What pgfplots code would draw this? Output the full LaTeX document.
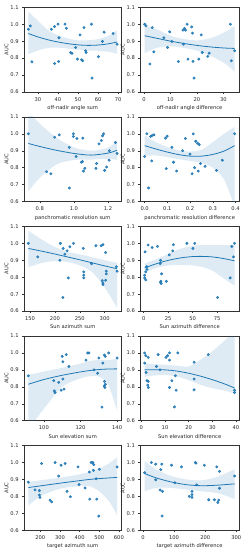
\documentclass[border=0pt]{standalone}
\usepackage{fontspec}
\setmainfont{DejaVu Sans}
\usepackage{pgfplots}
\usepackage{pgfplotstable}
\pgfplotsset{compat=1.18}
\usepgfplotslibrary{fillbetween}
\definecolor{c0}{HTML}{1F77B4}

% ---------- data ----------
\pgfplotstableread{
x y
25.2 0.970
26.2 0.990
27.0 0.778
36.7 0.970
38.3 0.986
38.3 0.768
40.0 1.000
40.3 0.780
40.5 0.920
43.5 1.000
44.2 0.976
46.3 0.833
47.0 0.828
48.8 0.863
49.7 0.794
51.0 0.937
51.8 0.790
52.3 0.784
53.0 0.980
53.8 0.843
54.0 0.833
56.7 1.000
57.0 0.682
60.2 0.808
62.2 0.898
63.0 0.953
67.5 0.945
69.5 0.882
}\sA
\pgfplotstableread{
x m lo hi
25.2 0.945 0.822 1.075
30 0.925 0.845 1.020
35 0.908 0.860 0.965
40 0.895 0.862 0.935
45 0.885 0.856 0.915
50 0.878 0.850 0.905
55 0.875 0.845 0.905
60 0.877 0.843 0.912
65 0.884 0.838 0.930
69.5 0.895 0.825 0.963
}\fA

\pgfplotstableread{
x y
0.26 1.000
0.77 0.990
2.2 0.765
3.1 0.980
3.7 0.837
7.5 0.920
8.9 0.863
9.7 0.955
10.5 0.898
13.0 0.780
14.7 0.965
14.9 0.882
15.3 0.975
15.7 0.965
16.3 1.000
16.6 0.794
18.0 0.984
18.3 0.947
18.5 0.780
18.9 0.682
20.7 0.794
21.6 0.937
22.0 0.833
24.1 0.810
24.6 0.829
32.6 1.000
33.0 0.784
34.2 0.843
}\sB
\pgfplotstableread{
x m lo hi
0.25 0.932 0.830 0.990
4.8 0.917 0.860 0.970
10.0 0.900 0.870 0.932
15.2 0.886 0.860 0.912
20.4 0.874 0.842 0.905
25.6 0.865 0.810 0.920
30.8 0.859 0.765 0.955
34.2 0.857 0.720 0.990
}\fB

\pgfplotstableread{
x y
0.733 1.000
0.840 0.776
0.865 0.764
0.887 0.980
0.914 0.994
0.973 0.920
0.973 0.680
0.997 1.000
0.997 0.984
1.013 0.866
1.017 0.972
1.044 0.832
1.050 0.836
1.052 0.974
1.056 0.780
1.064 0.796
1.129 0.796
1.133 0.824
1.147 0.940
1.161 0.960
1.168 0.988
1.174 1.000
1.180 0.784
1.192 0.804
1.206 0.844
1.208 0.900
1.243 0.948
1.253 0.884
}\sC
\pgfplotstableread{
x m lo hi
0.733 0.943 0.660 1.130
0.8 0.925 0.740 1.060
0.9 0.902 0.820 0.975
1.0 0.884 0.845 0.920
1.1 0.874 0.848 0.900
1.2 0.886 0.852 0.918
1.253 0.903 0.845 0.960
}\fC

\pgfplotstableread{
x y
0.000 0.866
0.010 1.000
0.017 0.680
0.026 0.984
0.031 0.840
0.033 0.990
0.041 0.994
0.092 0.974
0.095 0.794
0.099 0.986
0.120 0.920
0.127 0.832
0.141 0.780
0.167 0.900
0.179 0.972
0.200 0.880
0.209 0.764
0.214 1.000
0.220 0.800
0.225 0.956
0.233 0.944
0.236 0.780
0.240 0.936
0.246 0.824
0.266 0.808
0.316 0.784
0.342 0.844
0.396 1.000
}\sD
\pgfplotstableread{
x m lo hi
0.0 0.930 0.870 0.990
0.05 0.910 0.872 0.950
0.1 0.892 0.862 0.922
0.15 0.877 0.850 0.902
0.2 0.868 0.840 0.895
0.25 0.868 0.828 0.905
0.3 0.878 0.800 0.950
0.35 0.898 0.730 1.000
0.396 0.930 0.570 1.040
}\fD

\pgfplotstableread{
x y
146.6 1.000
165.5 0.920
210.0 0.900
211.0 1.000
216.6 0.970
216.0 0.680
220.0 0.936
224.6 0.956
227.0 0.796
230.0 0.980
237.4 1.000
257.0 0.970
258.0 0.832
258.0 0.812
258.0 0.796
273.7 0.880
282.5 0.986
293.0 0.986
296.6 0.992
295.0 0.780
296.6 0.766
296.6 0.756
302.0 0.946
302.0 0.782
303.3 0.836
303.3 0.820
323.5 0.862
325.0 0.836
}\sE
\pgfplotstableread{
x m lo hi
146.6 0.970 0.860 1.075
175 0.953 0.885 1.020
200 0.937 0.895 0.978
225 0.920 0.890 0.950
250 0.903 0.870 0.935
275 0.885 0.830 0.918
300 0.867 0.740 0.900
325 0.850 0.620 0.885
}\fE

\pgfplotstableread{
x y
1.4 0.950
3.1 0.862
3.4 0.846
2.1 0.832
1.0 0.812
1.0 0.796
2.1 0.784
4.5 0.990
8.6 0.976
14.1 0.982
16.9 0.880
17.2 0.900
17.6 0.776
18.3 0.820
17.2 0.770
17.9 0.762
23.1 0.776
26.2 0.932
29.7 0.956
30.3 0.992
44.1 1.000
50.3 0.970
52.1 1.000
75.5 0.680
88.3 0.796
90.0 0.982
91.7 0.920
92.8 1.000
}\sF
\pgfplotstableread{
x m lo hi
1.0 0.855 0.830 0.880
10 0.874 0.850 0.900
20 0.892 0.865 0.923
30 0.906 0.872 0.952
40 0.916 0.872 0.972
50 0.922 0.870 0.985
60 0.923 0.860 0.990
70 0.920 0.840 0.990
80 0.912 0.800 0.990
92.8 0.897 0.750 0.990
}\fF

\pgfplotstableread{
x y
91.5 0.865
105.4 0.836
105.7 0.776
106.1 0.766
108.1 0.826
109.4 0.780
110.0 0.980
110.4 0.948
110.4 0.846
111.0 0.786
112.2 0.990
113.7 0.920
123.0 0.958
123.9 1.000
124.6 1.000
127.4 0.900
129.3 0.880
130.0 0.970
131.7 0.680
132.2 0.940
133.0 0.988
133.5 0.980
133.1 0.832
133.0 0.806
133.3 0.796
133.6 0.815
135.4 1.000
140.0 0.970
}\sG
\pgfplotstableread{
x m lo hi
91.5 0.815 0.550 0.870
100 0.843 0.670 0.890
110 0.868 0.800 0.912
120 0.888 0.850 0.937
125 0.896 0.862 0.953
130 0.902 0.860 0.958
135 0.905 0.815 0.958
140 0.906 0.660 0.965
}\fG

\pgfplotstableread{
x y
1.4 1.000
1.9 0.984
1.4 0.940
2.0 0.885
2.9 0.974
2.4 0.836
2.9 0.832
2.7 0.810
3.0 0.796
6.4 0.920
7.1 0.990
7.9 0.900
10.4 0.974
11.1 0.984
11.9 1.000
11.9 0.958
11.9 0.796
12.9 0.836
14.0 0.681
14.4 0.865
14.7 0.780
15.4 1.000
22.3 0.945
22.3 0.846
22.3 0.782
28.3 0.990
39.4 0.780
39.4 0.766
}\sH
\pgfplotstableread{
x m lo hi
1.4 0.900 0.860 0.940
5 0.901 0.866 0.935
10 0.900 0.870 0.930
15 0.893 0.860 0.925
20 0.880 0.840 0.920
25 0.863 0.812 0.960
30 0.842 0.792 1.010
35 0.818 0.778 1.070
39.4 0.793 0.760 1.130
}\fH

\pgfplotstableread{
x y
138.8 0.884
172.8 0.838
195.0 0.834
195.0 0.808
198.0 0.794
206.8 0.994
249.3 0.778
257.8 0.768
274.8 1.000
293.5 0.920
305.4 0.984
325.9 0.994
336.0 0.830
353.0 0.798
392.0 0.974
397.0 0.870
428.0 0.850
450.0 0.944
451.7 0.784
458.5 1.000
467.0 1.000
470.4 0.954
472.0 0.988
484.0 0.904
487.4 0.784
497.6 0.684
501.0 0.960
591.0 0.974
}\sI
\pgfplotstableread{
x m lo hi
138.8 0.852 0.745 0.885
200 0.862 0.800 0.895
300 0.878 0.845 0.910
400 0.893 0.860 0.930
450 0.900 0.860 0.945
500 0.905 0.830 0.965
550 0.909 0.770 0.995
591 0.912 0.690 1.030
}\fI

\pgfplotstableread{
x y
5.4 0.940
27.0 1.000
41.0 0.990
41.0 0.898
55.0 0.838
57.2 0.958
60.4 0.990
62.6 0.830
61.5 0.684
91.7 0.984
102.5 0.880
124.0 0.974
148.9 0.800
157.5 0.830
157.5 0.810
157.5 0.794
168.3 1.000
170.4 0.996
172.6 0.868
197.4 0.984
211.4 0.780
229.8 0.780
237.3 0.974
240.5 0.764
246.0 0.948
243.8 0.778
246.0 0.848
294.5 0.920
}\sJ
\pgfplotstableread{
x m lo hi
5.4 0.935 0.830 1.010
41 0.910 0.850 0.960
91 0.885 0.850 0.920
140 0.869 0.840 0.900
189 0.863 0.830 0.895
238 0.866 0.820 0.915
294.5 0.874 0.785 0.960
}\fJ

\newcommand{\panelplots}[3]{%
  \addplot[name path=hi#3, draw=none, smooth, forget plot] table[x=x,y=hi]{#2};
  \addplot[name path=lo#3, draw=none, smooth, forget plot] table[x=x,y=lo]{#2};
  \addplot[fill=c0, fill opacity=0.15, draw=none] fill between[of=hi#3 and lo#3];
  \addplot[c0, line width=0.8pt, smooth] table[x=x,y=m]{#2};
  \addplot[only marks, mark=*, mark size=1.25pt, c0, mark options={draw=none, fill=c0, fill opacity=0.85}] table[x=x,y=y]{#1};
}

\pgfplotsset{
  panel/.style={
    scale only axis, height=85pt, anchor=north west,
    ymin=0.6, ymax=1.1, ytick={0.6,0.7,0.8,0.9,1.0,1.1},
    yticklabel style={/pgf/number format/fixed, /pgf/number format/fixed zerofill, /pgf/number format/precision=1},
    ylabel={AUC},
    axis line style={line width=0.4pt, black!80},
    tick style={black!80, line width=0.4pt},
    major tick length=1.8pt,
    tick align=outside, tick pos=left,
    every tick label/.append style={font=\fontsize{5.2}{6}\selectfont, text=black!85},
    label style={font=\fontsize{5.2}{6}\selectfont, text=black!85},
    /pgf/number format/assume math mode=true,
    xlabel style={inner sep=1pt},
    ylabel style={inner sep=1pt},
    ylabel shift=-2.5pt,
  },
  L/.style={panel, width=98pt},
  R/.style={panel, width=99.3pt},
  onedec/.style={xticklabel style={/pgf/number format/fixed, /pgf/number format/fixed zerofill, /pgf/number format/precision=1}},
}

\begin{document}
\begin{tikzpicture}
% row 1
\begin{axis}[L, at={(24pt,-7.3pt)}, xmin=23.0, xmax=71.7, xtick={30,40,50,60,70}, xlabel={off-nadir angle sum}]
\panelplots{\sA}{\fA}{a}
\end{axis}
\begin{axis}[R, at={(140.7pt,-7.3pt)}, xmin=-1.45, xmax=35.9, xtick={0,10,20,30}, xlabel={off-nadir angle difference}]
\panelplots{\sB}{\fB}{b}
\end{axis}
% row 2
\begin{axis}[L, at={(24pt,-117.3pt)}, xmin=0.707, xmax=1.279, xtick={0.8,1.0,1.2}, onedec,
  xlabel={panchromatic resolution sum}]
\panelplots{\sC}{\fC}{c}
\end{axis}
\begin{axis}[R, at={(140.7pt,-117.3pt)}, xmin=-0.0198, xmax=0.4158, xtick={0,0.1,0.2,0.3,0.4}, onedec,
  xlabel={panchromatic resolution difference}]
\panelplots{\sD}{\fD}{d}
\end{axis}
% row 3
\begin{axis}[L, at={(24pt,-227.3pt)}, xmin=137.7, xmax=333.9, xtick={150,200,250,300}, xlabel={Sun azimuth sum}]
\panelplots{\sE}{\fE}{e}
\end{axis}
\begin{axis}[R, at={(140.7pt,-227.3pt)}, xmin=-3.6, xmax=97.4, xtick={0,25,50,75}, xlabel={Sun azimuth difference}]
\panelplots{\sF}{\fF}{f}
\end{axis}
% row 4
\begin{axis}[L, at={(24pt,-337.3pt)}, xmin=89.1, xmax=142.4, xtick={100,120,140}, xlabel={Sun elevation sum}]
\panelplots{\sG}{\fG}{g}
\end{axis}
\begin{axis}[R, at={(140.7pt,-337.3pt)}, xmin=-0.5, xmax=41.3, xtick={0,10,20,30,40}, xlabel={Sun elevation difference}]
\panelplots{\sH}{\fH}{h}
\end{axis}
% row 5
\begin{axis}[L, at={(24pt,-447.3pt)}, xmin=116.2, xmax=613.6, xtick={200,300,400,500,600}, xlabel={target azimuth sum}]
\panelplots{\sI}{\fI}{i}
\end{axis}
\begin{axis}[R, at={(140.7pt,-447.3pt)}, xmin=-9.05, xmax=308.9, xtick={0,100,200,300}, xlabel={target azimuth difference}]
\panelplots{\sJ}{\fJ}{j}
\end{axis}
\path (0,0) rectangle (249pt,-550pt);
\end{tikzpicture}
\end{document}
